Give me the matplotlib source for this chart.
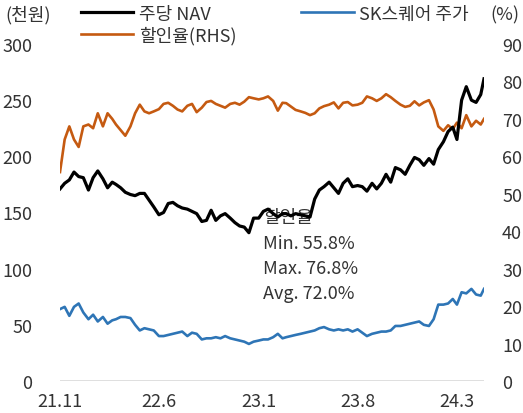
import matplotlib
matplotlib.use("Agg")
import matplotlib.pyplot as plt
import pandas as pd

plt.rcParams['font.family'] = ['Noto Sans CJK KR', 'DejaVu Sans']
plt.rcParams['font.size'] = 13

# sampled on the 1st, 11th and 21st of each month, 21.11 ~ 24.4
months = pd.period_range('2021-11', '2024-04', freq='M')
dates = [pd.Timestamp(f"{p}-{d:02d}") for p in months for d in (1, 11, 21)]
dates.append(pd.Timestamp('2024-04-28'))

# 주당 NAV (천원)
nav = [171, 176, 179, 186, 182, 181, 170, 181, 187, 180, 172, 177,
       175, 172, 168, 166, 165, 167, 167, 161, 155, 148, 150, 158,
       159, 156, 154, 153, 151, 149, 142, 143, 152, 143, 147, 149,
       145, 141, 138, 137, 132, 145, 145, 151, 153, 149, 146, 149,
       149, 147, 149, 148, 147, 146, 162, 170, 173, 177, 172, 167,
       176, 180, 173, 174, 173, 169, 176, 171, 176, 184, 177, 190,
       188, 184, 192, 199, 197, 192, 198, 193, 206, 213, 222, 226,
       215, 250, 262, 250, 248, 255, 269]

# SK스퀘어 주가 (천원)
price = [64, 66, 58, 66, 69, 61, 55, 59, 53, 57, 51, 54,
         55, 57, 57, 56, 50, 45, 47, 46, 45, 40, 40, 41,
         42, 43, 44, 40, 43, 42, 37, 38, 38, 39, 38, 40,
         38, 37, 36, 35, 33, 35, 36, 37, 37, 39, 42, 38,
         39, 40, 41, 42, 43, 44, 45, 47, 48, 46, 45, 46,
         45, 46, 44, 46, 43, 40, 42, 43, 44, 44, 45, 49,
         49, 50, 51, 52, 53, 50, 49, 55, 68, 68, 69, 73,
         68, 79, 78, 82, 77, 76, 82]

# 할인율 (%)
discount = [55.8, 64.5, 68.0, 64.5, 62.5, 68.0, 68.5, 67.5, 71.5, 68.0, 71.5, 70.0,
            68.5, 67.0, 65.5, 68.0, 71.5, 73.8, 72.0, 71.5, 72.0, 72.6, 74.0, 74.3,
            73.5, 72.5, 72.0, 73.5, 74.0, 71.8, 73.0, 74.5, 74.8, 74.0, 73.5, 73.0,
            74.0, 74.3, 73.8, 74.6, 75.8, 75.5, 75.2, 75.5, 76.0, 74.8, 72.2, 74.3,
            74.2, 73.3, 72.4, 72.0, 71.6, 71.0, 71.5, 72.8, 73.4, 73.8, 74.4, 72.8,
            74.3, 74.5, 73.6, 73.8, 74.3, 76.0, 75.5, 74.8, 75.5, 76.6, 75.8, 74.8,
            73.8, 73.2, 73.5, 74.7, 73.6, 74.4, 75.0, 72.5, 68.0, 66.8, 68.3, 67.3,
            69.0, 67.5, 71.0, 68.0, 69.5, 68.5, 70.0]

tick_dates = ['2021-11-01', '2022-06-01', '2023-01-01', '2023-08-01', '2024-03-01']
tick_labels = ['21.11', '22.6', '23.1', '23.8', '24.3']
stats = ['할인율', 'Min. 55.8%', 'Max. 76.8%', 'Avg. 72.0%']

txt = '#333333'
fig = plt.figure(figsize=(5.23, 4.14), dpi=100)
ax = fig.add_axes([60/523, 32/414, 424/523, 337/414])
ax2 = ax.twinx()
ax.set_zorder(ax2.get_zorder() + 1)
ax.patch.set_visible(False)

l_nav, = ax.plot(dates, nav, color='black', lw=2.3, label='주당 NAV')
l_price, = ax.plot(dates, price, color='#2E75B6', lw=1.9, label='SK스퀘어 주가')
l_disc, = ax2.plot(dates, discount, color='#C55A11', lw=1.9, label='할인율(RHS)')
ax.axhline(0, color='#d9d9d9', lw=1.2)

ax.set_ylim(0, 300)
ax2.set_ylim(0, 90)
ax.set_yticks(range(0, 301, 50))
ax2.set_yticks(range(0, 91, 10))
ax.set_xlim(dates[0], dates[-1])
ax.set_xticks(pd.to_datetime(tick_dates))
ax.set_xticklabels(tick_labels)
ax.tick_params(axis='y', length=0, pad=20, colors=txt)
ax.tick_params(axis='x', length=0, pad=8, colors=txt)
ax2.tick_params(axis='y', length=0, pad=13, colors=txt)
for a in (ax, ax2):
    for s in a.spines.values():
        s.set_visible(False)

# stats box sits under the NAV line
ys = [0.487, 0.409, 0.335, 0.261]
for s, y in zip(stats, ys):
    ax2.text(0.479, y, s, transform=ax.transAxes, va='center', ha='left', color=txt)

fig.legend(handles=[l_nav, l_disc, l_price], ncol=2, loc='upper left',
           bbox_to_anchor=(72/523, 1.008), frameon=False, borderpad=0,
           handlelength=2.9, handletextpad=0.3, columnspacing=3.6,
           labelspacing=0.15, labelcolor=txt)
fig.text(5/523, 1 - 15/414, '(천원)', va='center', ha='left', color=txt)
fig.text(519/523, 1 - 15/414, '(%)', va='center', ha='right', color=txt)

fig.savefig('out.png', dpi=100)
